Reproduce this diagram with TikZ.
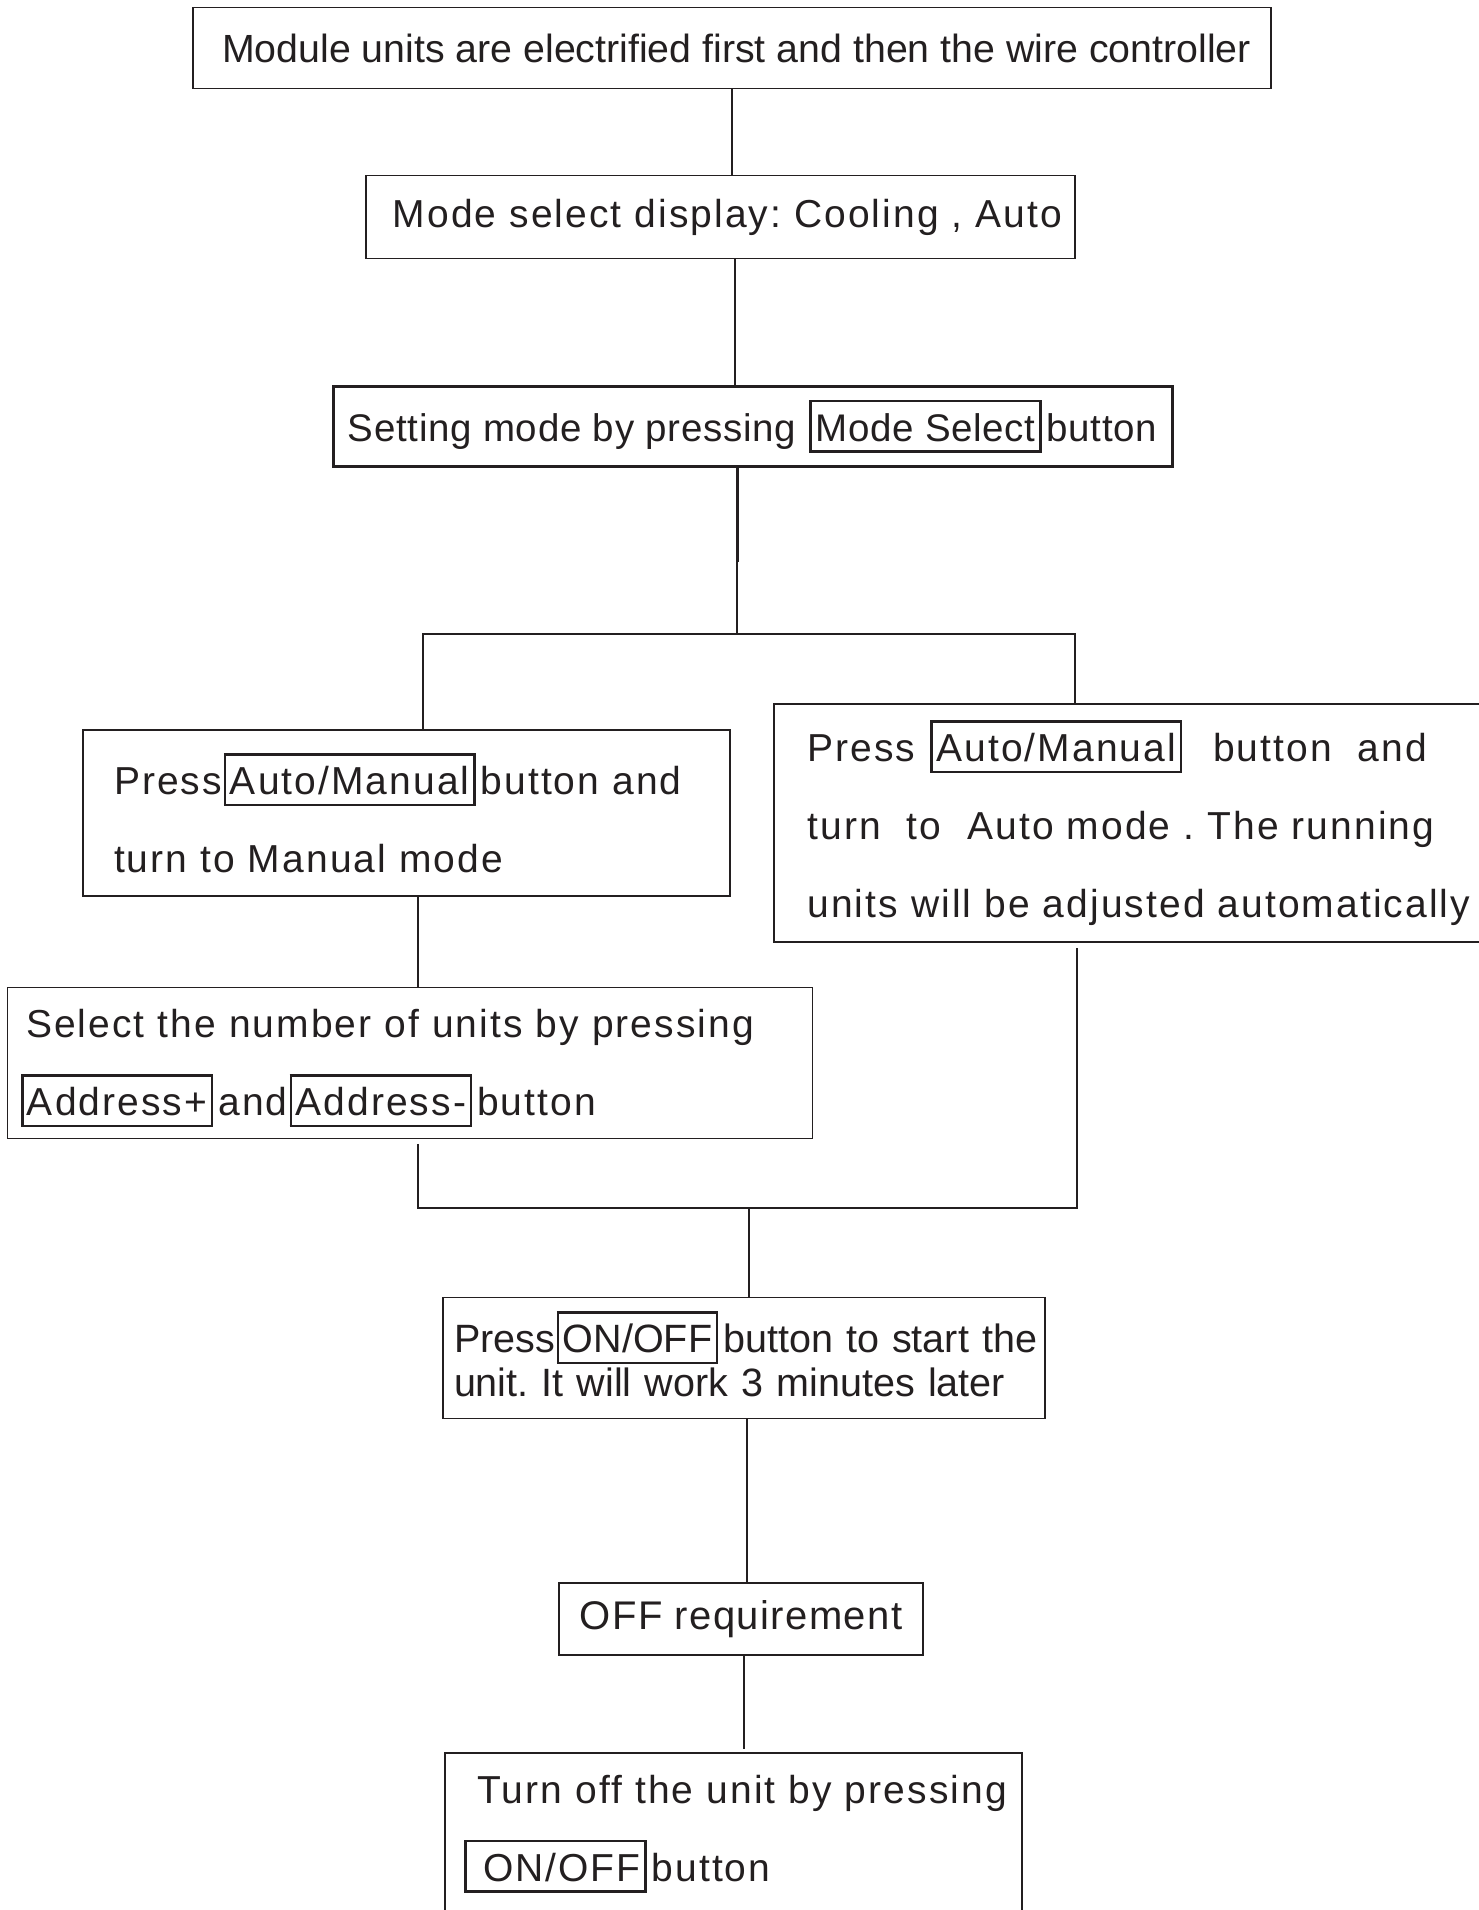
\documentclass[tikz,border=0pt]{standalone}
\usepackage{fontspec}
\setmainfont{Liberation Sans}
\frenchspacing
\definecolor{ink}{HTML}{231F20}
\newcommand{\keybtn}[1]{\hspace{2pt}{\fboxsep=3.5pt\fboxrule=2.5pt\fbox{\rule[-5.5pt]{0pt}{41pt}#1}}\hspace{5pt}}
\newcommand{\boxfont}[3]{\fontsize{#1}{#2}\selectfont\addfontfeatures{LetterSpace=#3}}

\begin{document}
\begin{tikzpicture}
  [x=1pt,y=-1pt,color=ink,line width=1.3pt,
   every node/.style={draw,rectangle,inner sep=0pt},
   stagebox/.style 2 args={minimum width=#1,minimum height=#2}]
  \useasboundingbox (0,0) rectangle (1479,1910);

  \node[stagebox={1078pt}{81.5pt},font=\boxfont{39.3}{47}{0}] (units) at (732,48)
    {\hspace*{9pt}Module units are electrified first and then the wire controller};
  \node[stagebox={709pt}{83pt},font=\boxfont{39}{46}{5.3}] (display) at (720.5,217)
    {\hspace*{14pt}Mode select display: Cooling , Auto};
  \node[stagebox={839pt}{80pt},line width=3pt,font=\boxfont{38.5}{46}{1.8}] (setmode) at (752.5,426)
    {Setting mode by pressing \keybtn{Mode Select}button};
  \node[stagebox={647pt}{166pt},text width=585pt,align=left,font=\boxfont{39}{78}{5.3}] (manual) at (406.5,813)
    {Press\keybtn{Auto/Manual}button and\\turn to Manual mode};
  \node[stagebox={736pt}{238pt},text width=669pt,align=left,font=\boxfont{39}{78}{5.3}] (auto) at (1142,823)
    {Press \keybtn{Auto/Manual}\ \ button\ \ and\\turn\ \ to\ \ Auto mode . The running\\units will be adjusted automatically};
  \node[stagebox={804.5pt}{151.5pt},text width=782pt,text height=38.5pt,align=left,font=\boxfont{39}{78}{5.3}] (address) at (410,1063)
    {\hspace*{7pt}Select the number of units by pressing\\\keybtn{Address+}and\keybtn{Address-}button};
  \node[stagebox={602pt}{121.5pt},text width=600pt,text depth=52pt,align=left,font=\boxfont{39.5}{44}{0}] (start) at (744,1358)
    {\hspace*{10pt}Press\keybtn{ON/OFF}button to start the\\\hspace*{10pt}unit. It will work 3 minutes later};
  \node[stagebox={364pt}{72pt},font=\boxfont{40}{47}{3.5}] (offreq) at (741,1619)
    {OFF requirement};
  \node[stagebox={577pt}{162pt},text width=556pt,align=left,font=\boxfont{39}{78}{5.3}] (turnoff) at (733.5,1834)
    {\hspace*{22pt}Turn off the unit by pressing\\\hspace*{6.5pt}\keybtn{\ ON/OFF}button};

  \coordinate (fork) at (737,634);
  \coordinate (forkL) at (423,634);
  \coordinate (forkR) at (1075,634);
  \coordinate (joinL) at (418,1208);
  \coordinate (joinR) at (1077,1208);

  \draw (units.south) -- (units.south |- display.north);
  \draw ([xshift=14.5pt]display.south) -- ([xshift=14.5pt]display.south |- setmode.north);
  \draw[line width=3pt] (fork |- setmode.south) -- ++(0,94);
  \draw (fork |- setmode.south) -- (fork);
  \draw (forkL |- manual.north) -- (forkL) -- (forkR) -- (forkR |- auto.north);
  \draw (joinL |- manual.south) -- (joinL |- address.north);
  \draw ([yshift=-4.5pt]joinL |- address.south) -- (joinL) -- (joinR) -- ([yshift=-5pt]joinR |- auto.south);
  \draw ([xshift=5pt]start.north) -- ([xshift=5pt]start.north |- joinL);
  \draw ([xshift=3pt]start.south) -- ([xshift=3pt]start.south |- offreq.north);
  \draw ([xshift=3pt]offreq.south) -- ([xshift=3pt,yshift=3pt]offreq.south |- turnoff.north);
\end{tikzpicture}
\end{document}
